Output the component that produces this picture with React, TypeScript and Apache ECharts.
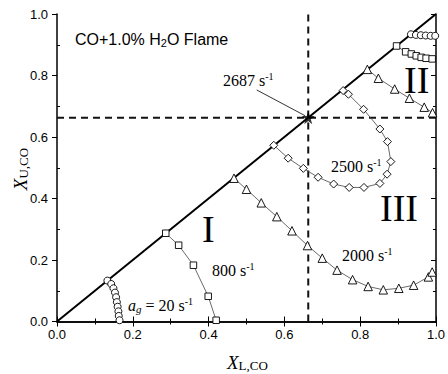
import React, { useEffect, useRef } from "react";
import * as echarts from "echarts";

const xTickLabels = ["0.0", "0.2", "0.4", "0.6", "0.8", "1.0"];
const yTickLabels = ["0.0", "0.2", "0.4", "0.6", "0.8", "1.0"];

// a_g = 20 s^-1 (circles)
const circLowX = [0.133, 0.143, 0.149, 0.153, 0.156, 0.158, 0.160, 0.162, 0.163, 0.165];
const circLowY = [0.133, 0.122, 0.108, 0.094, 0.079, 0.063, 0.048, 0.033, 0.018, 0.004];
const circUpX = [0.934, 0.947, 0.960, 0.973, 0.986, 0.998];
const circUpY = [0.934, 0.932, 0.931, 0.930, 0.929, 0.929];
// 800 s^-1 (squares)
const sqLowX = [0.287, 0.321, 0.360, 0.399, 0.420];
const sqLowY = [0.287, 0.248, 0.183, 0.082, 0.004];
const sqUpX = [0.896, 0.920, 0.935, 0.948, 0.961, 0.974, 0.990];
const sqUpY = [0.896, 0.877, 0.870, 0.864, 0.859, 0.856, 0.854];
// 2000 s^-1 (triangles)
const triLowX = [0.467, 0.500, 0.539, 0.580, 0.620, 0.661, 0.700, 0.739, 0.780, 0.821, 0.861, 0.902, 0.941, 0.980, 0.990];
const triLowY = [0.466, 0.430, 0.386, 0.341, 0.295, 0.247, 0.206, 0.167, 0.136, 0.114, 0.103, 0.108, 0.118, 0.145, 0.161];
const triUpX = [0.819, 0.848, 0.891, 0.930, 0.969, 0.991];
const triUpY = [0.820, 0.791, 0.756, 0.726, 0.697, 0.679];
// 2500 s^-1 (diamonds)
const diaX = [0.572, 0.610, 0.650, 0.689, 0.730, 0.771, 0.810, 0.852, 0.871, 0.881, 0.872, 0.852, 0.809, 0.769, 0.755];
const diaY = [0.573, 0.531, 0.498, 0.469, 0.447, 0.436, 0.436, 0.449, 0.479, 0.520, 0.585, 0.626, 0.690, 0.739, 0.751];
// diagonal and critical point
const diagX = [0, 1];
const diagY = [0, 1];
const critX = 0.663;
const critY = 0.663;
const arrowFrom = [0.527, 0.753];

const zip = (a: number[], b: number[]) => a.map((v, i) => [v, b[i]]);

const SERIF = "'Liberation Serif', 'Times New Roman', serif";
const SANS = "'Liberation Sans', Arial, sans-serif";
const STAR = "path://M50,0 L61.2,34.5 L97.6,34.5 L68.2,55.9 L79.4,90.5 L50,69.1 L20.6,90.5 L31.8,55.9 L2.4,34.5 L38.8,34.5 Z";

function branch(xs: number[], ys: number[], symbol: string, size: number) {
  return {
    type: "line",
    data: zip(xs, ys),
    symbol,
    symbolSize: size,
    showSymbol: true,
    z: 5,
    lineStyle: { color: "#444", width: 0.8 },
    itemStyle: { color: "#fff", borderColor: "#000", borderWidth: 0.9 },
    silent: true,
  };
}

const rateRich = {
  n: { fontFamily: SERIF, fontSize: 16, color: "#000", verticalAlign: "middle", lineHeight: 18 },
  s: { fontFamily: SERIF, fontSize: 10, color: "#000", verticalAlign: "top", lineHeight: 12 },
  i: { fontFamily: SERIF, fontSize: 16, fontStyle: "italic", color: "#000", verticalAlign: "middle", lineHeight: 18 },
  g: { fontFamily: SERIF, fontSize: 11, fontStyle: "italic", color: "#000", verticalAlign: "bottom", lineHeight: 12 },
};

function rateText(x: number, y: number, text: string) {
  return {
    type: "text",
    x,
    y,
    style: { text, rich: rateRich, align: "left", verticalAlign: "middle", textAlign: "left", textVerticalAlign: "middle" },
  };
}

function romanText(x: number, y: number, text: string) {
  return {
    type: "text",
    x,
    y,
    style: {
      text,
      fontFamily: SERIF,
      fontSize: 38,
      fill: "#000",
      align: "left",
      verticalAlign: "middle",
      textAlign: "left",
      textVerticalAlign: "middle",
    },
  };
}

export default function App() {
  const ref = useRef<HTMLDivElement>(null);
  useEffect(() => {
    if (!ref.current) return;
    const chart = echarts.init(ref.current, null, { renderer: "svg" });
    const lbl = (v: number) => xTickLabels[Math.round(v / 0.2)] ?? "";
    const ylbl = (v: number) => yTickLabels[Math.round(v / 0.2)] ?? "";
    const axisLine = { show: true, lineStyle: { color: "#000", width: 1.5 } };
    const option: any = {
      animation: false,
      backgroundColor: "#fff",
      grid: { left: 57, right: 8, top: 14, bottom: 52.5, containLabel: false },
      xAxis: [
        {
          type: "value", min: 0, max: 1, interval: 0.2, position: "bottom",
          axisLine,
          axisTick: { show: true, inside: true, length: 5, lineStyle: { color: "#000", width: 1 } },
          minorTick: { show: true, splitNumber: 2, length: 3, lineStyle: { color: "#000", width: 1 } },
          splitLine: { show: false },
          axisLabel: { formatter: lbl, fontSize: 13, color: "#000", fontFamily: SANS, margin: 6 },
        },
        {
          type: "value", min: 0, max: 1, interval: 0.2, position: "top",
          axisLine,
          axisTick: { show: true, inside: true, length: 5, lineStyle: { color: "#000", width: 1 } },
          minorTick: { show: true, splitNumber: 2, length: 3, lineStyle: { color: "#000", width: 1 } },
          splitLine: { show: false },
          axisLabel: { show: false },
        },
      ],
      yAxis: [
        {
          type: "value", min: 0, max: 1, interval: 0.2, position: "left",
          axisLine,
          axisTick: { show: true, inside: false, length: 5, lineStyle: { color: "#000", width: 1 } },
          minorTick: { show: false },
          splitLine: { show: false },
          axisLabel: { formatter: ylbl, fontSize: 13, color: "#000", fontFamily: SANS, margin: 9 },
        },
        {
          type: "value", min: 0, max: 1, interval: 0.2, position: "left",
          axisLine: { show: false },
          axisTick: { show: false, inside: true },
          minorTick: { show: true, splitNumber: 2, length: 3, lineStyle: { color: "#000", width: 1 } },
          splitLine: { show: false },
          axisLabel: { show: false },
        },
        {
          type: "value", min: 0, max: 1, interval: 0.2, position: "right",
          axisLine,
          axisTick: { show: true, inside: true, length: 5, lineStyle: { color: "#000", width: 1 } },
          minorTick: { show: true, splitNumber: 2, length: 3, lineStyle: { color: "#000", width: 1 } },
          splitLine: { show: false },
          axisLabel: { show: false },
        },
      ],
      series: [
        {
          type: "line", data: zip(diagX, diagY), symbol: "none", z: 3, silent: true,
          lineStyle: { color: "#000", width: 2 },
        },
        {
          type: "line", data: [[critX, 0], [critX, 1]], symbol: "none", z: 2, silent: true,
          lineStyle: { color: "#111", width: 2, type: [7, 5] },
        },
        {
          type: "line", data: [[0, critY], [1, critY]], symbol: "none", z: 2, silent: true,
          lineStyle: { color: "#111", width: 2, type: [7, 5] },
          markLine: {
            silent: true,
            symbol: ["none", "arrow"],
            symbolSize: [0, 7],
            lineStyle: { color: "#000", width: 0.8, type: "solid" },
            label: { show: false },
            data: [[{ coord: arrowFrom }, { coord: [critX - 0.008, critY + 0.006] }]],
          },
        },
        branch(circLowX, circLowY, "circle", 7),
        branch(circUpX, circUpY, "circle", 7),
        branch(sqLowX, sqLowY, "rect", 6.5),
        branch(sqUpX, sqUpY, "rect", 6.5),
        branch(triLowX, triLowY, "triangle", 8.5),
        branch(triUpX, triUpY, "triangle", 8.5),
        branch(diaX, diaY, "diamond", 8),
        {
          type: "scatter", data: [[critX, critY]], symbol: STAR, symbolSize: 13, z: 6, silent: true,
          itemStyle: { color: "#000" },
        },
      ],
      graphic: [
        {
          type: "text", x: 75, y: 39,
          style: {
            text: "{t|CO+1.0% H}{b|2}{t|O Flame}",
            align: "left", verticalAlign: "middle", textAlign: "left", textVerticalAlign: "middle",
            rich: {
              t: { fontFamily: SANS, fontSize: 16, color: "#000", verticalAlign: "middle", lineHeight: 18 },
              b: { fontFamily: SANS, fontSize: 11, color: "#000", verticalAlign: "bottom", lineHeight: 12 },
            },
          },
        },
        rateText(223, 80, "{n|2687 s}{s|-1}"),
        rateText(212, 270, "{n|800 s}{s|-1}"),
        rateText(342, 255, "{n|2000 s}{s|-1}"),
        rateText(331, 166, "{n|2500 s}{s|-1}"),
        rateText(128, 305, "{i|a}{g|g}{n| = 20 s}{s|-1}"),
        romanText(202, 229, "I"),
        romanText(404, 80, "II"),
        romanText(380, 208, "III"),
        {
          type: "text", x: 227, y: 362,
          style: {
            text: "{x|X}{c|L,CO}",
            align: "left", verticalAlign: "middle", textAlign: "left", textVerticalAlign: "middle",
            rich: {
              x: { fontFamily: SERIF, fontSize: 19, fontStyle: "italic", color: "#000", verticalAlign: "middle", lineHeight: 20 },
              c: { fontFamily: SERIF, fontSize: 13, color: "#000", verticalAlign: "bottom", lineHeight: 12 },
            },
          },
        },
        {
          type: "text", x: 20, y: 169, rotation: Math.PI / 2,
          style: {
            text: "{x|X}{c|U,CO}",
            align: "center", verticalAlign: "middle", textAlign: "center", textVerticalAlign: "middle",
            rich: {
              x: { fontFamily: SERIF, fontSize: 19, fontStyle: "italic", color: "#000", verticalAlign: "middle", lineHeight: 20 },
              c: { fontFamily: SERIF, fontSize: 13, color: "#000", verticalAlign: "bottom", lineHeight: 12 },
            },
          },
        },
      ],
    };
    chart.setOption(option);
    return () => chart.dispose();
  }, []);
  return <div ref={ref} style={{ width: 448, height: 374, position: "absolute", left: 0, top: 0 }} />;
}
